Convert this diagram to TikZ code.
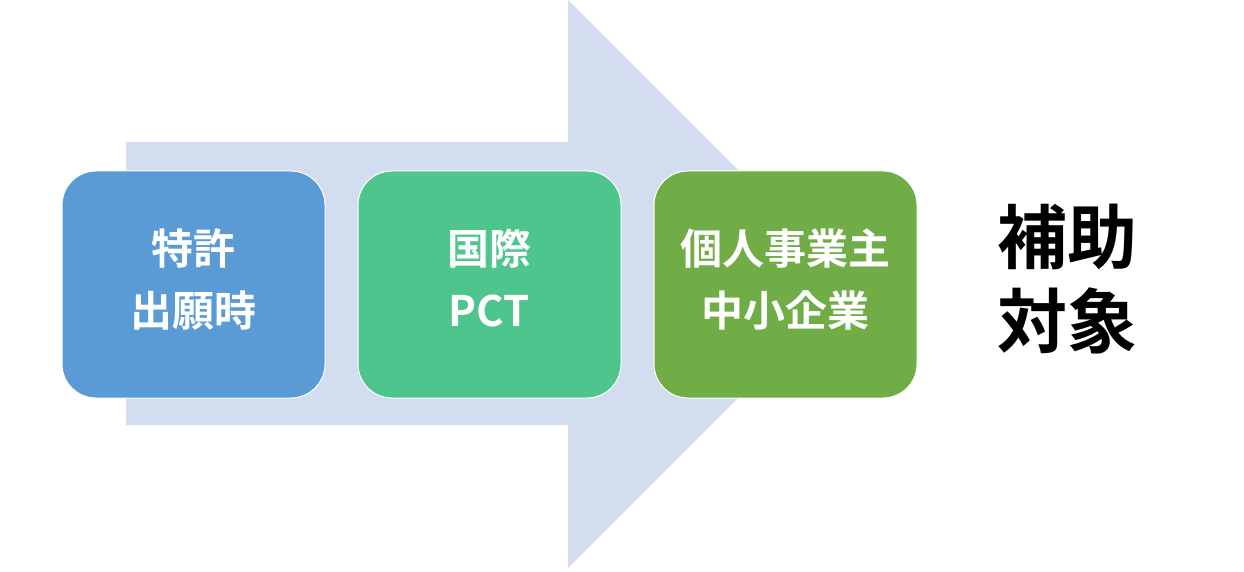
\documentclass[tikz,border=0pt]{standalone}
\usepackage{fontspec}
\newfontfamily\cjk{Noto Sans CJK JP}[BoldFont={Noto Sans CJK JP Bold}]
\usetikzlibrary{positioning}
\definecolor{arrowblue}{HTML}{D2DEEF}
\definecolor{boxblue}{HTML}{5B9BD5}
\definecolor{boxgreen}{HTML}{4EC58C}
\definecolor{boxolive}{HTML}{70AD47}
\begin{document}
\begin{tikzpicture}[x=1pt, y=-1pt,
    box/.style={draw=white, line width=1pt, rounded corners=34pt, minimum width=263pt,
      minimum height=227pt, align=center, text=white, inner sep=0pt, text depth=14pt,
      font=\cjk\bfseries\fontsize{42}{62}\selectfont}]
  \useasboundingbox (0,0) rectangle (1244,572);
  \fill[arrowblue] (126,142) -- (568,142) -- (568,0) -- (852,284) -- (568,568)
    -- (568,425) -- (126,425) -- cycle;
  \node[box, fill=boxblue] (tokkyo) at (193.5,284.5) {特許\\出願時};
  \node[box, fill=boxgreen, right=32pt of tokkyo] (kokusai) {国際\\PCT};
  \node[box, fill=boxolive, right=32pt of kokusai] (kojin) {個人事業主\\中小企業};
  \node[align=center, font=\cjk\bfseries\fontsize{70}{84}\selectfont] (hojo) at (1067,279) {補助\\対象};
\end{tikzpicture}
\end{document}
